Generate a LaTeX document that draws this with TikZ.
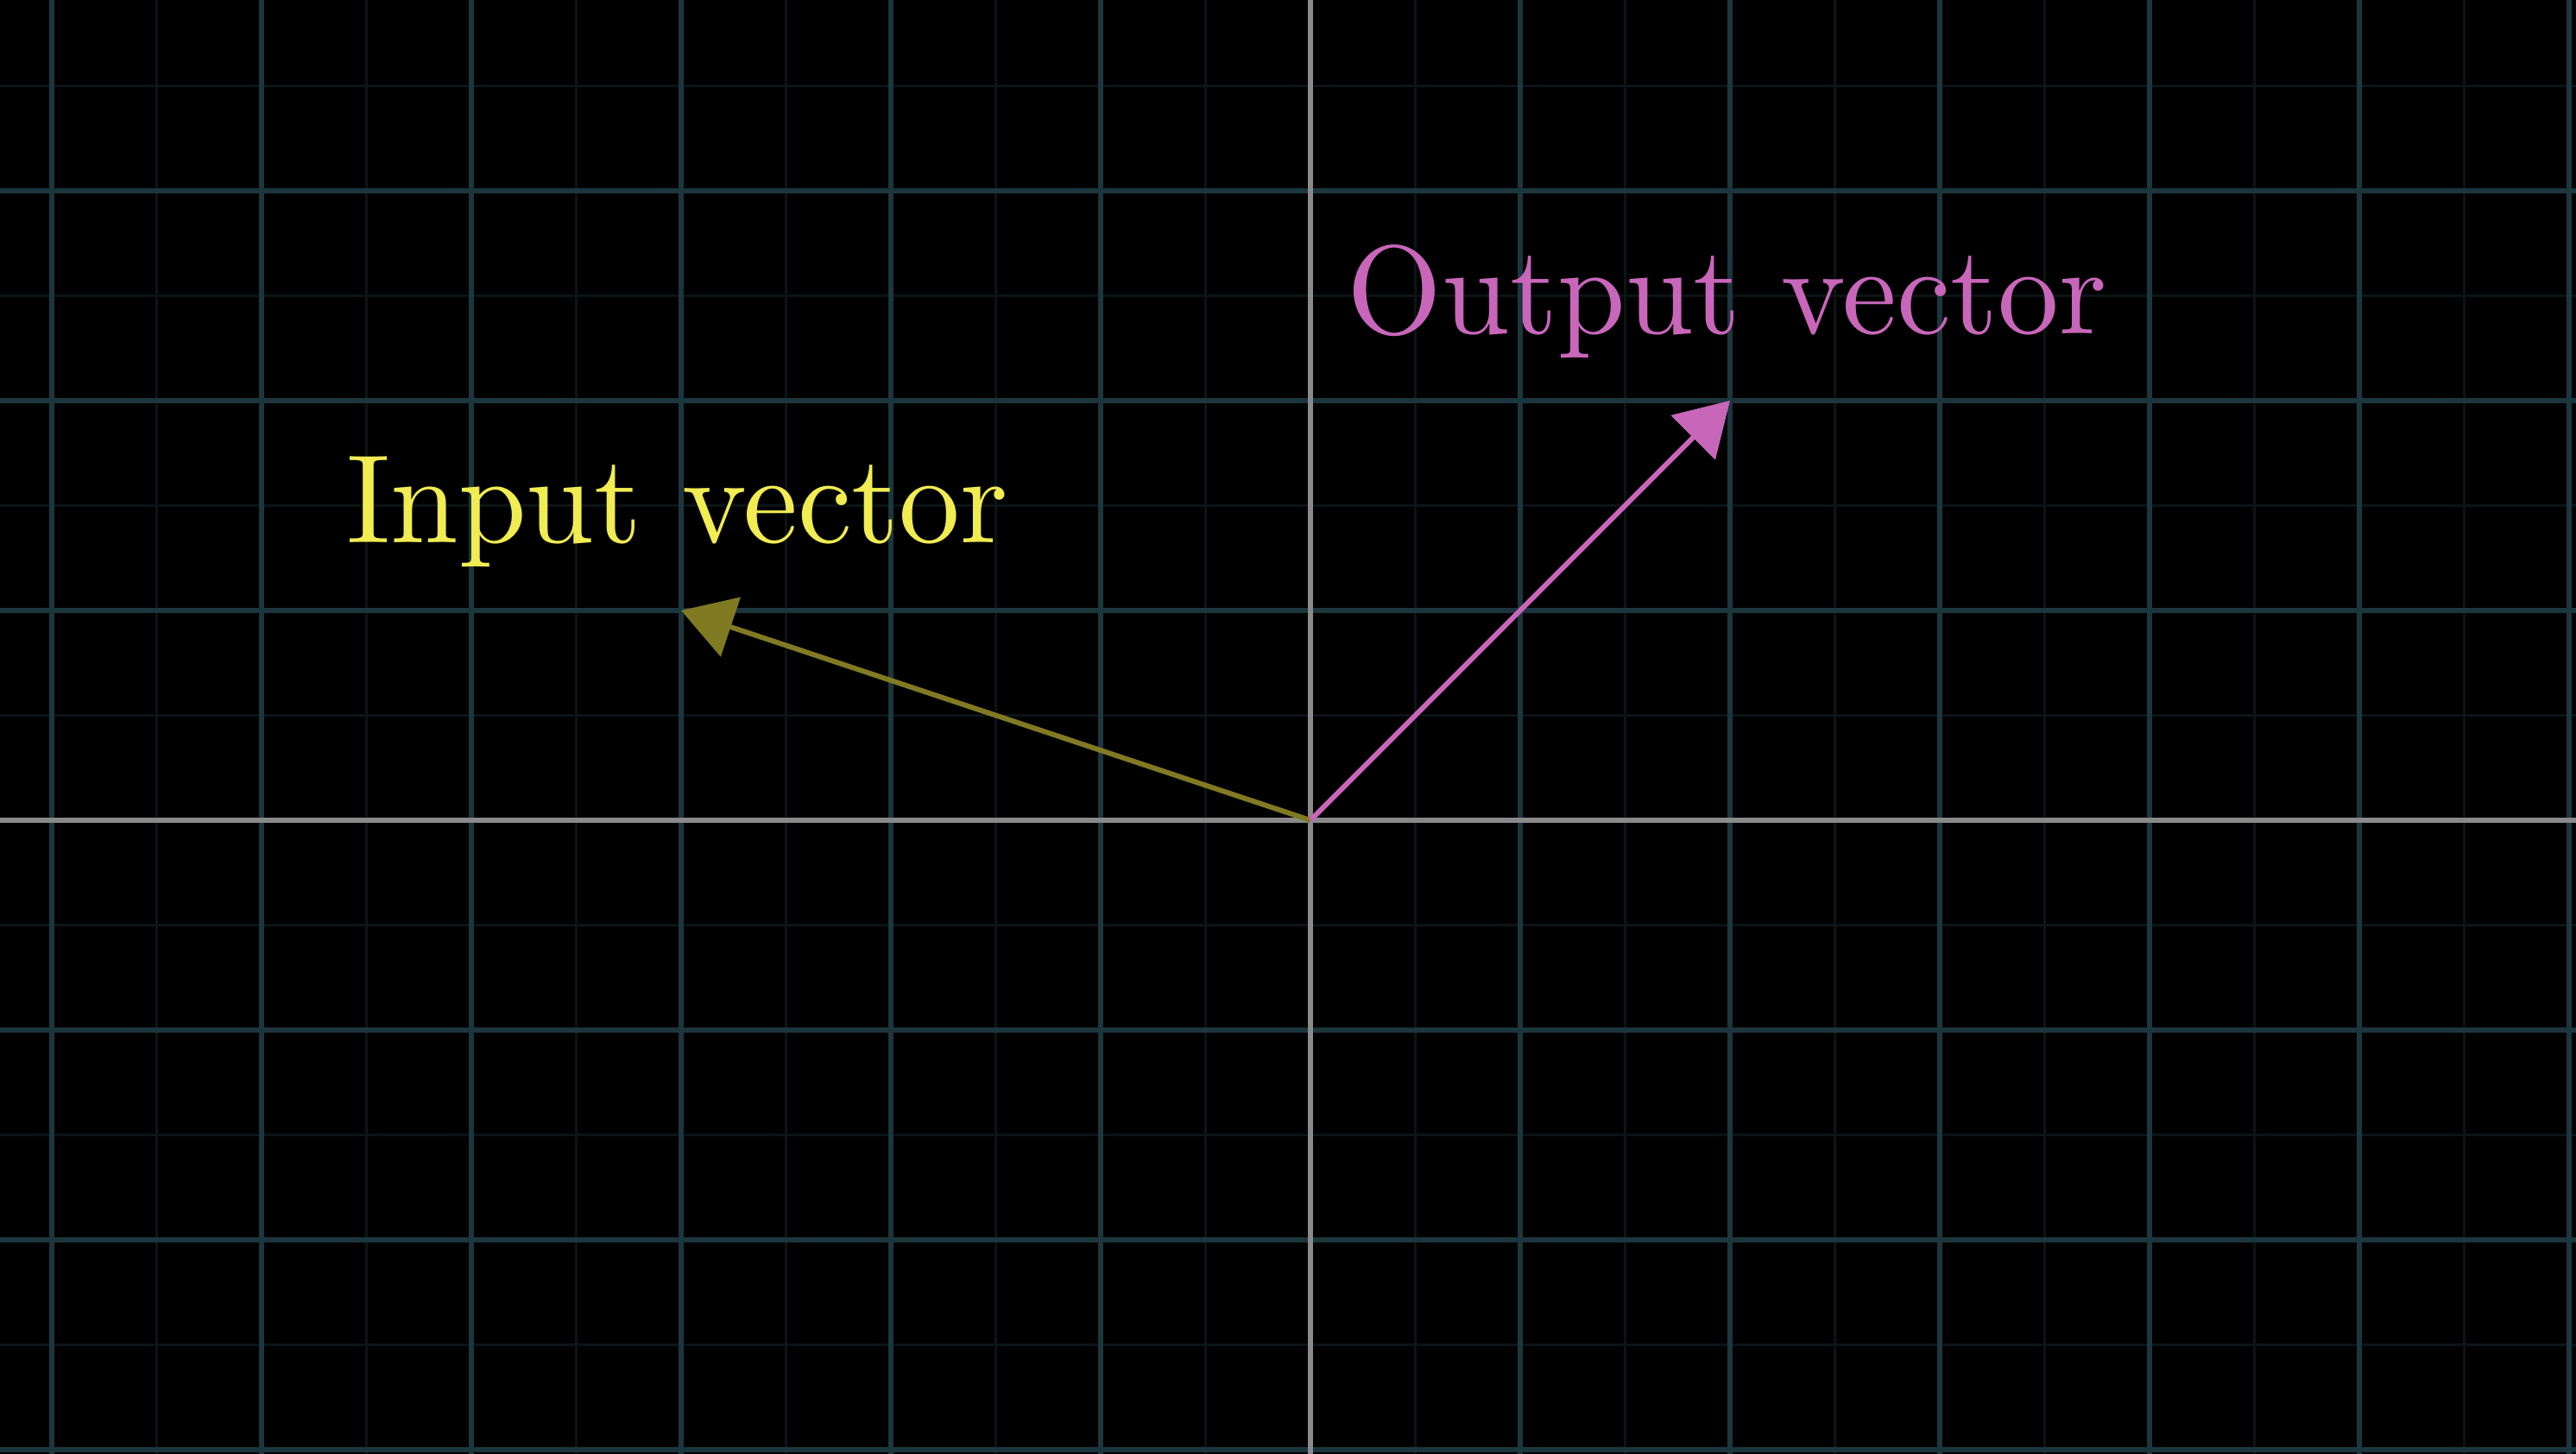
\documentclass[tikz,border=0pt]{standalone}
\usetikzlibrary{arrows.meta}
\definecolor{bgblack}{RGB}{0,0,0}
\definecolor{gridmajor}{RGB}{28,54,62}
\definecolor{gridminor}{RGB}{12,20,23}
\definecolor{axisgray}{RGB}{138,138,138}
\definecolor{inarrow}{RGB}{128,122,34}
\definecolor{intext}{RGB}{240,236,82}
\definecolor{outpink}{RGB}{200,102,186}
\tikzset{
  minorline/.style={draw=gridminor, line width=0.35pt},
  majorline/.style={draw=gridmajor, line width=0.8pt},
  axisline/.style={draw=axisgray, line width=0.8pt},
  vecarrow/.style={line width=0.7pt, -{Triangle[length=0.249cm, width=0.294cm]}},
  vlabel/.style={anchor=base west, inner sep=0pt, xscale=1.655, yscale=1.71, font=\fontsize{10}{12}\selectfont}
}
\begin{document}
\begin{tikzpicture}
\useasboundingbox (-6.24691,-3.02058) rectangle (6.03292,3.90947);
\fill[bgblack] (-6.24691,-3.02058) rectangle (6.03292,3.90947);
% minor lines
\foreach \x in {-5.5,-4.5,...,5.5} \draw[minorline] (\x,-3.1) -- (\x,4);
\foreach \y in {-2.5,-1.5,...,3.5} \draw[minorline] (-6.3,\y) -- (6.1,\y);
% major lines
\foreach \x in {-6,...,-1,1,2,...,6} \draw[majorline] (\x,-3.1) -- (\x,4);
\foreach \y in {-3,-2,-1,1,2,3} \draw[majorline] (-6.3,\y) -- (6.1,\y);
% axes
\draw[axisline] (-6.3,0) -- (6.1,0);
\draw[axisline] (0,-3.1) -- (0,4);
% vectors
\coordinate (O) at (0,0);
\coordinate (vin) at (-3,1);
\coordinate (vout) at (2,2);
\draw[vecarrow, inarrow] (O) -- (vin);
\draw[vecarrow, outpink] (O) -- (vout);
% labels
\node[vlabel, text=intext] (inlabel) at (-4.605,1.321) {Input vector};
\node[vlabel, text=outpink] (outlabel) at (0.165,2.317) {Output vector};
\end{tikzpicture}
\end{document}
